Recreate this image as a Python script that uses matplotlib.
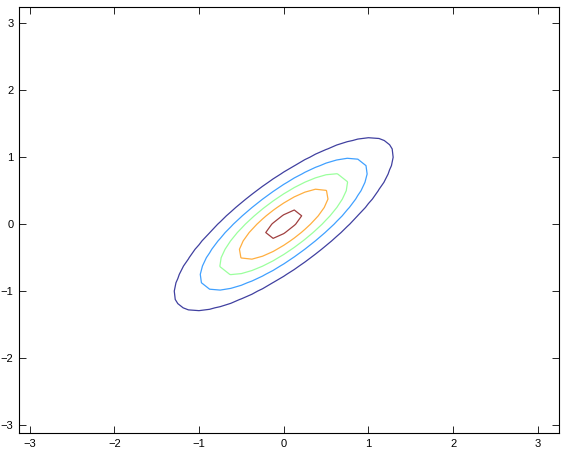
import numpy as np
import matplotlib
matplotlib.use("Agg")
import matplotlib.pyplot as plt

# Bivariate normal parameters
mean_xy = [0.0, 0.0]
cov_xx = 0.5
cov_yy = 0.5
cov_xy = 0.4
contour_levels = [0.1, 0.2, 0.3, 0.4, 0.5]
grid_step = 0.125
grid_min, grid_max = -3.125, 3.25

x_ticks = [-3, -2, -1, 0, 1, 2, 3]
y_ticks = [-3, -2, -1, 0, 1, 2, 3]

plt.rcParams['font.family'] = ['Liberation Sans', 'DejaVu Sans']

g = np.arange(grid_min, grid_max + grid_step / 2, grid_step)
X, Y = np.meshgrid(g, g)
S = np.array([[cov_xx, cov_xy], [cov_xy, cov_yy]])
Si = np.linalg.inv(S)
dx = X - mean_xy[0]
dy = Y - mean_xy[1]
q = Si[0, 0] * dx**2 + 2 * Si[0, 1] * dx * dy + Si[1, 1] * dy**2
Z = np.exp(-0.5 * q) / (2 * np.pi * np.sqrt(np.linalg.det(S)))

fig = plt.figure(figsize=(5.68, 4.53), dpi=100)
ax = fig.add_axes([19/568, 19.7/453, 540/568, 426.6/453])
ax.contour(X, Y, Z, levels=contour_levels, cmap='jet', linewidths=0.9, alpha=0.75)
ax.set_xlim(grid_min, grid_max)
ax.set_ylim(grid_min, grid_max)
ax.set_xticks(x_ticks)
ax.set_yticks(y_ticks)
ax.tick_params(direction='in', length=5, width=0.6, top=True, right=True,
               labelsize=8, pad=4)
for s in ax.spines.values():
    s.set_linewidth(0.8)
fig.savefig('out.png', dpi=100)
